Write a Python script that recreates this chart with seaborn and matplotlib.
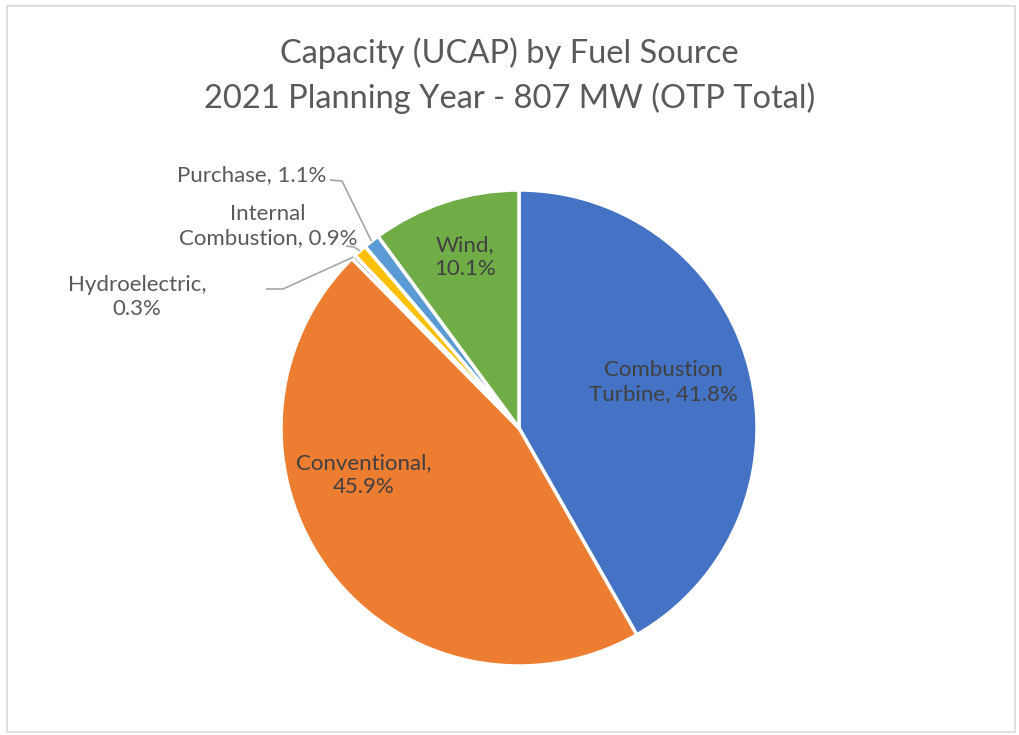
import numpy as np
import matplotlib
matplotlib.use("Agg")
import matplotlib.pyplot as plt
import seaborn as sns

# -------------------------------
# DATA
# -------------------------------
sources = ["Combustion\nTurbine", "Conventional", "Hydroelectric",
           "Internal\nCombustion", "Purchase", "Wind"]
shares = [41.8, 45.9, 0.3, 0.9, 1.1, 10.1]
colors = ["#4472C4", "#ED7D31", "#A5A5A5", "#FFC000", "#5B9BD5", "#70AD47"]
title_lines = ["Capacity (UCAP) by Fuel Source",
               "2021 Planning Year - 807 MW (OTP Total)"]

sns.set_theme(style="white")
plt.rcParams["font.family"] = ["Lato", "DejaVu Sans"]

W, H = 1019, 735
fig = plt.figure(figsize=(W / 100, H / 100), dpi=100)
fig.patch.set_facecolor("white")

# axes spanning the figure, 238 px per data unit, pie centre at (519, 428) px
scale = 238.0
cx, cy = 519, H - 428
ax = fig.add_axes([0, 0, 1, 1])

wedges, _ = ax.pie(shares, colors=colors, startangle=90, counterclock=False,
                   radius=1.0, center=(0, 0), frame=True,
                   wedgeprops=dict(edgecolor="white", linewidth=2.5))
ax.set_xlim(-cx / scale, (W - cx) / scale)
ax.set_ylim(-cy / scale, (H - cy) / scale)
ax.set_aspect("auto")
ax.axis("off")

labels = [f"{s}, {v:.1f}%" for s, v in zip(sources, shares)]
labels[1] = "Conventional,\n45.9%"
labels[2] = "Hydroelectric,\n0.3%"
labels[5] = "Wind,\n10.1%"

def px(x, y):
    return ((x - cx) / scale, (H - y - cy) / scale)

def mid_point(w, r=1.0):
    a = np.deg2rad((w.theta1 + w.theta2) / 2)
    return r * np.cos(a), r * np.sin(a)

fs = 16
# inside labels (label positions in px)
inside = {0: (663, 382), 1: (364, 475), 5: (465, 257)}
for i, (x, y) in inside.items():
    ax.text(*px(x, y), labels[i], ha="center", va="center",
            fontsize=fs, color="#404040", linespacing=1.25)

# outside labels with leader lines
lbl_color = "#595959"
line_color = "#A6A6A6"
ax.text(*px(326, 175), labels[4], ha="right", va="center",
        fontsize=fs, color=lbl_color)
ax.text(*px(268, 226), labels[3], ha="center", va="center",
        fontsize=fs, color=lbl_color, linespacing=1.25)
ax.text(*px(137, 297), labels[2], ha="center", va="center",
        fontsize=fs, color=lbl_color, linespacing=1.25)

leaders = {4: [(330, 180), (342, 181)], 3: [(346, 246), (354, 247)],
           2: [(266, 289), (283, 289)]}
for i, pts in leaders.items():
    ex, ey = mid_point(wedges[i], 1.0)
    xs = [px(*p)[0] for p in pts] + [ex]
    ys = [px(*p)[1] for p in pts] + [ey]
    ax.plot(xs, ys, color=line_color, lw=1.2, solid_capstyle="butt")

# title
fig.text(0.5, 1 - 53 / H, title_lines[0], ha="center", va="center",
         fontsize=23.5, color="#595959")
fig.text(0.5, 1 - 98 / H, title_lines[1], ha="center", va="center",
         fontsize=23.5, color="#595959")

# chart border
fig.patches.append(plt.Rectangle((7 / W, 3 / H), 1008 / W, 726 / H,
                                 transform=fig.transFigure, fill=False,
                                 edgecolor="#D9D9D9", lw=1.2))

fig.savefig("out.png", dpi=100)
